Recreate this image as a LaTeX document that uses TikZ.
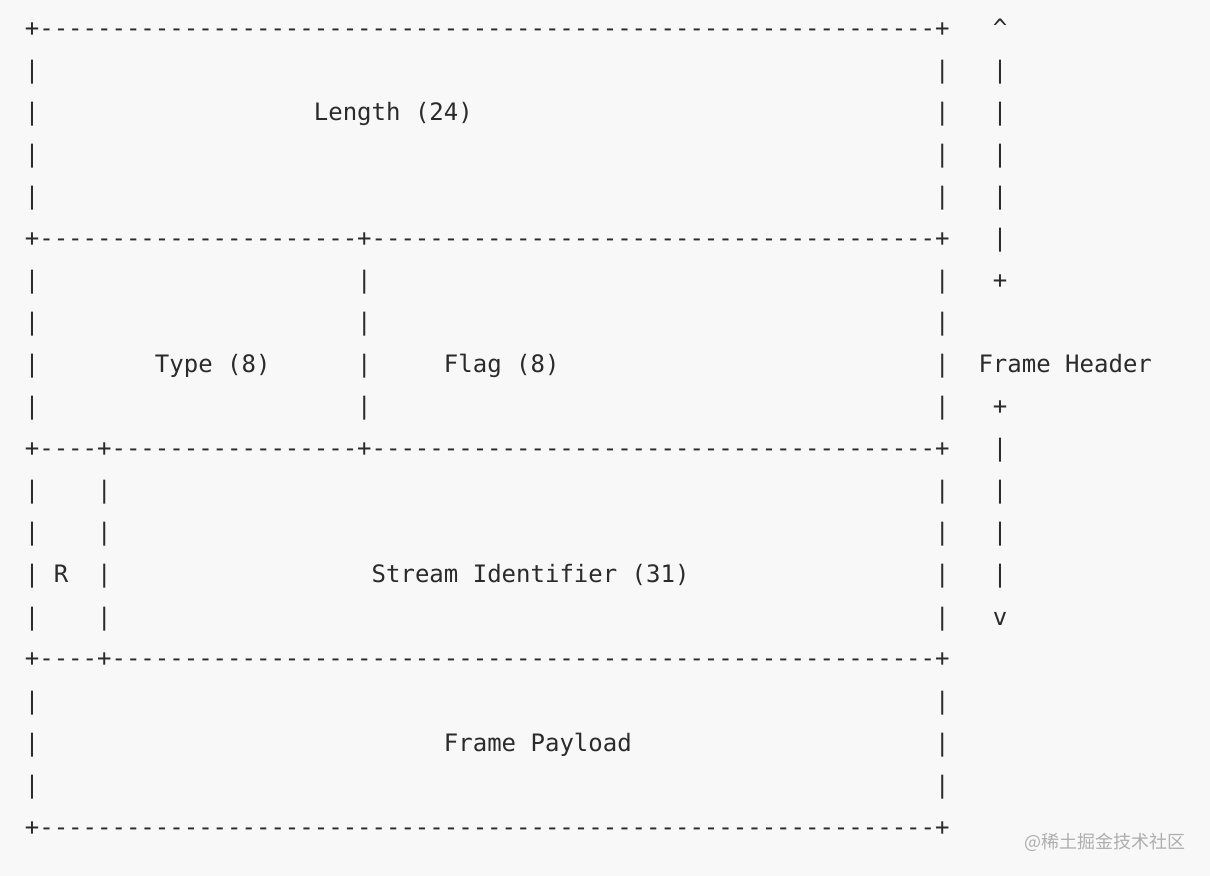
\documentclass[tikz,border=0pt]{standalone}
\usepackage{fontspec}
\setmonofont{DejaVu Sans Mono}
\newfontfamily\cjkfont{Noto Sans CJK SC}
\definecolor{paper}{HTML}{F8F8F8}
\definecolor{ink}{HTML}{2B2B2B}
\definecolor{markgray}{HTML}{AEAEAE}
\newlength\cw
\newcommand\gap[1]{\hspace*{#1\cw}}
\ExplSyntaxOn
\cs_new:Npn \dashrun #1 { \prg_replicate:nn {#1} {-} }
\ExplSyntaxOff
\tikzset{
	asc/.style={anchor=base west, inner sep=0pt, text=ink, font=\ttfamily\fontsize{12}{12}\selectfont},
	wmark/.style={anchor=east, inner sep=0pt, text=markgray, font=\cjkfont\fontsize{9}{9}\selectfont}
}

\begin{document}
\settowidth{\cw}{\ttfamily\fontsize{12}{12}\selectfont x}
\begin{tikzpicture}[x=0.5pt, y=-0.5pt]
		%%%%% START %%%%%
		
		\fill[paper] (0, 0) rectangle (1210, 876);
		\useasboundingbox (0, 0) rectangle (1210, 876);
		
		% length field
		\node[asc] (l0) at (24.5, 37) {+\dashrun{62}+\gap{3}\textasciicircum};
		\node[asc] (l1) at (24.5, 79) {|\gap{62}|\gap{3}|};
		\node[asc] (l2) at (24.5, 121) {|\gap{19}Length (24)\gap{32}|\gap{3}|};
		\node[asc] (l3) at (24.5, 163) {|\gap{62}|\gap{3}|};
		\node[asc] (l4) at (24.5, 205) {|\gap{62}|\gap{3}|};
		
		% type and flag
		\node[asc] (l5) at (24.5, 247) {+\dashrun{22}+\dashrun{39}+\gap{3}|};
		\node[asc] (l6) at (24.5, 289) {|\gap{22}|\gap{39}|\gap{3}+};
		\node[asc] (l7) at (24.5, 331) {|\gap{22}|\gap{39}|};
		\node[asc] (l8) at (24.5, 373) {|\gap{8}Type (8)\gap{6}|\gap{5}Flag (8)\gap{26}|\gap{2}Frame Header};
		\node[asc] (l9) at (24.5, 415) {|\gap{22}|\gap{39}|\gap{3}+};
		
		% stream identifier
		\node[asc] (l10) at (24.5, 457) {+\dashrun{4}+\dashrun{17}+\dashrun{39}+\gap{3}|};
		\node[asc] (l11) at (24.5, 499) {|\gap{4}|\gap{57}|\gap{3}|};
		\node[asc] (l12) at (24.5, 541) {|\gap{4}|\gap{57}|\gap{3}|};
		\node[asc] (l13) at (24.5, 583) {|\gap{1}R\gap{2}|\gap{18}Stream Identifier (31)\gap{17}|\gap{3}|};
		\node[asc] (l14) at (24.5, 625) {|\gap{4}|\gap{57}|\gap{3}v};
		
		% payload
		\node[asc] (l15) at (24.5, 667) {+\dashrun{4}+\dashrun{57}+};
		\node[asc] (l16) at (24.5, 709) {|\gap{62}|};
		\node[asc] (l17) at (24.5, 751) {|\gap{28}Frame Payload\gap{21}|};
		\node[asc] (l18) at (24.5, 793) {|\gap{62}|};
		\node[asc] (l19) at (24.5, 835) {+\dashrun{62}+};
		
		\node[wmark] (mark) at (1186, 842) {@稀土掘金技术社区};
		
		%%%%% END %%%%%
\end{tikzpicture}
\end{document}
